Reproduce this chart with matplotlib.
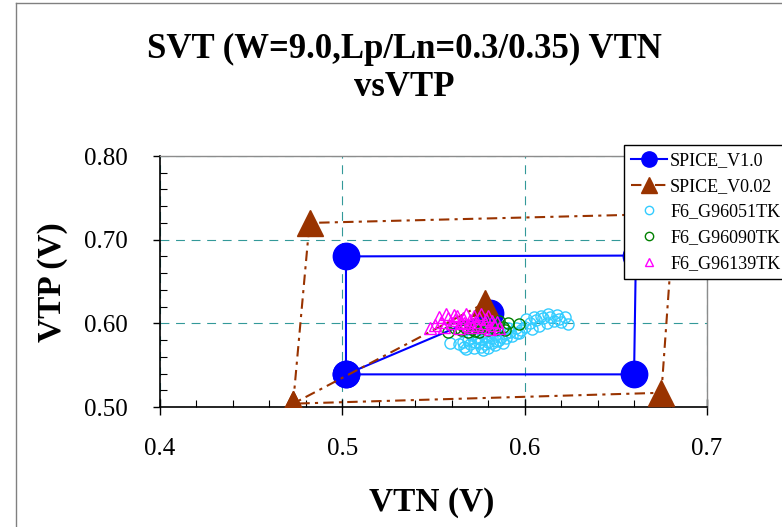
import matplotlib
matplotlib.use("Agg")
import matplotlib.pyplot as plt
from matplotlib.lines import Line2D
from matplotlib.ticker import MultipleLocator, FormatStrFormatter

# ---------------- data ----------------
title = "SVT (W=9.0,Lp/Ln=0.3/0.35) VTN\nvsVTP"
xlabel = "VTN (V)"
ylabel = "VTP (V)"

series_names = ["SPICE_V1.0", "SPICE_V0.02", "F6_G96051TK", "F6_G96090TK", "F6_G96139TK"]

v10_vtn = [0.581, 0.502, 0.502, 0.661, 0.660, 0.502]
v10_vtp = [0.612, 0.539, 0.680, 0.681, 0.539, 0.539]

v002_vtn = [0.578, 0.473, 0.482, 0.682, 0.675, 0.473]
v002_vtp = [0.624, 0.504, 0.720, 0.731, 0.517, 0.504]

g051_vtn = [0.622, 0.618, 0.614, 0.610, 0.616, 0.620, 0.624, 0.612, 0.606, 0.603,
            0.608, 0.600, 0.604, 0.598, 0.595, 0.609, 0.613, 0.619, 0.601, 0.605,
            0.592, 0.589, 0.596, 0.593, 0.587, 0.584, 0.590, 0.586, 0.582, 0.579,
            0.580, 0.576, 0.573, 0.570, 0.567, 0.572, 0.576, 0.580, 0.584, 0.578,
            0.574, 0.569, 0.566, 0.571, 0.582, 0.588, 0.585, 0.575, 0.568, 0.564,
            0.577, 0.559, 0.583, 0.578, 0.591, 0.597]
g051_vtp = [0.607, 0.610, 0.608, 0.606, 0.603, 0.601, 0.599, 0.600, 0.604, 0.600,
            0.597, 0.596, 0.593, 0.592, 0.594, 0.609, 0.611, 0.605, 0.605, 0.608,
            0.590, 0.587, 0.588, 0.585, 0.584, 0.586, 0.582, 0.580, 0.583, 0.585,
            0.578, 0.581, 0.578, 0.575, 0.572, 0.570, 0.572, 0.571, 0.574, 0.575,
            0.583, 0.580, 0.578, 0.586, 0.577, 0.576, 0.579, 0.576, 0.569, 0.575,
            0.568, 0.577, 0.592, 0.590, 0.595, 0.589]

g090_vtn = [0.597, 0.591, 0.586, 0.588, 0.584, 0.580, 0.577, 0.574, 0.571, 0.568,
            0.565, 0.575, 0.580, 0.585, 0.582, 0.578, 0.572, 0.569, 0.562, 0.558,
            0.583, 0.589, 0.576, 0.573, 0.566]
g090_vtp = [0.599, 0.600, 0.603, 0.596, 0.598, 0.597, 0.594, 0.596, 0.593, 0.595,
            0.592, 0.590, 0.592, 0.593, 0.601, 0.600, 0.599, 0.590, 0.594, 0.590,
            0.595, 0.592, 0.598, 0.591, 0.597]

g139_vtn = [0.548, 0.551, 0.554, 0.556, 0.558, 0.560, 0.562, 0.563, 0.565, 0.566,
            0.568, 0.569, 0.570, 0.572, 0.573, 0.575, 0.576, 0.578, 0.579, 0.580,
            0.582, 0.583, 0.585, 0.586, 0.561, 0.557, 0.553, 0.571, 0.564, 0.577,
            0.581, 0.567, 0.574]
g139_vtp = [0.594, 0.598, 0.602, 0.596, 0.606, 0.600, 0.604, 0.609, 0.601, 0.606,
            0.611, 0.598, 0.604, 0.609, 0.602, 0.606, 0.611, 0.600, 0.605, 0.609,
            0.603, 0.598, 0.601, 0.595, 0.610, 0.611, 0.607, 0.596, 0.595, 0.596,
            0.593, 0.600, 0.598]

x_ticks = [0.4, 0.5, 0.6, 0.7]
y_ticks = [0.50, 0.60, 0.70, 0.80]

# ---------------- style ----------------
plt.rcParams['font.family'] = ['Liberation Serif', 'DejaVu Serif']

W, H = 782, 527
fig = plt.figure(figsize=(W / 100, H / 100), dpi=100)
ax = fig.add_axes([160 / W, 1 - 407 / H, (707 - 160) / W, (407 - 156) / H])

BLUE = "#0000FF"
BROWN = "#993300"
CYAN = "#33CCFF"
GREEN = "#008000"
MAGENTA = "#FF00FF"
GRID = "#339999"

ax.plot(v10_vtn, v10_vtp, color=BLUE, lw=1.5, marker='o', ms=19,
        markerfacecolor=BLUE, markeredgecolor=BLUE, zorder=3)
ax.plot(v002_vtn, v002_vtp, color=BROWN, lw=1.5, linestyle=(0, (5, 2.5, 1.5, 2.5)),
        marker='^', ms=19, markerfacecolor=BROWN, markeredgecolor=BROWN, zorder=4)
ax.plot(g051_vtn, g051_vtp, linestyle='none', marker='o', ms=8,
        markerfacecolor='none', markeredgecolor=CYAN, mew=1.0, zorder=5)
ax.plot(g090_vtn, g090_vtp, linestyle='none', marker='o', ms=8,
        markerfacecolor='none', markeredgecolor=GREEN, mew=1.0, zorder=6)
ax.plot(g139_vtn, g139_vtp, linestyle='none', marker='^', ms=8,
        markerfacecolor='none', markeredgecolor=MAGENTA, mew=1.0, zorder=7)

ax.set_xlim(0.4, 0.7)
ax.set_ylim(0.5, 0.8)
ax.set_xticks(x_ticks)
ax.set_yticks(y_ticks)
ax.xaxis.set_major_formatter(FormatStrFormatter('%.1f'))
ax.yaxis.set_major_formatter(FormatStrFormatter('%.2f'))
ax.xaxis.set_minor_locator(MultipleLocator(0.02))
ax.yaxis.set_minor_locator(MultipleLocator(0.02))

ax.tick_params(axis='x', which='major', direction='inout', length=11, width=1,
               labelsize=18, pad=17, color='black')
ax.tick_params(axis='x', which='minor', direction='in', length=5, width=0.8)
ax.tick_params(axis='y', which='major', direction='out', length=5, width=1,
               labelsize=18, pad=18)
ax.tick_params(axis='y', which='minor', direction='in', length=5, width=0.8)

ax.grid(True, which='major', color=GRID, linestyle=(0, (8, 6)), lw=0.8, zorder=1)
ax.set_axisbelow(True)

for side in ['left', 'bottom']:
    ax.spines[side].set_color('black')
    ax.spines[side].set_linewidth(1.2)
for side in ['top', 'right']:
    ax.spines[side].set_color('#8c8c8c')
    ax.spines[side].set_linewidth(1.0)

ax.set_xlabel(xlabel, fontsize=24, fontweight='bold', va='center')
ax.xaxis.set_label_coords((432 - 160) / 547, (407 - 502) / 251)
ax.set_ylabel(ylabel, fontsize=24, fontweight='bold', va='center')
ax.yaxis.set_label_coords((52 - 160) / 547, (407 - 282) / 251)

fig.text(404 / W, 1 - 68.5 / H, title, ha='center', va='center',
         fontsize=25, fontweight='bold', linespacing=1.2)

# legend proxies (smaller markers as in the reference legend)
handles = [
    Line2D([], [], color=BLUE, lw=1.5, marker='o', ms=11, markerfacecolor=BLUE,
           markeredgecolor=BLUE),
    Line2D([], [], color=BROWN, lw=1.5, linestyle=(0, (5, 2.5, 1.5, 2.5)), marker='^',
           ms=11, markerfacecolor=BROWN, markeredgecolor=BROWN),
    Line2D([], [], linestyle='none', marker='o', ms=6, markerfacecolor='none',
           markeredgecolor=CYAN, mew=1.0),
    Line2D([], [], linestyle='none', marker='o', ms=6, markerfacecolor='none',
           markeredgecolor=GREEN, mew=1.0),
    Line2D([], [], linestyle='none', marker='^', ms=6, markerfacecolor='none',
           markeredgecolor=MAGENTA, mew=1.0),
]
leg = ax.legend(handles, series_names, loc='upper left',
                bbox_to_anchor=(624 / W, 1 - 145 / H), bbox_transform=fig.transFigure,
                borderaxespad=0, fontsize=13, frameon=True, fancybox=False,
                edgecolor='black', framealpha=1, handlelength=2.0,
                handletextpad=0.15, borderpad=0.4, labelspacing=0.48)
leg.get_frame().set_linewidth(1.0)
leg.set_zorder(10)

# figure border (left and top edges visible)
fig.add_artist(Line2D([15.5 / W, 15.5 / W], [0, 1 - 2.5 / H], color='#808080', lw=1,
                      transform=fig.transFigure))
fig.add_artist(Line2D([15.5 / W, 1], [1 - 2.5 / H, 1 - 2.5 / H], color='#808080', lw=1,
                      transform=fig.transFigure))

fig.savefig("out.png", dpi=100)
